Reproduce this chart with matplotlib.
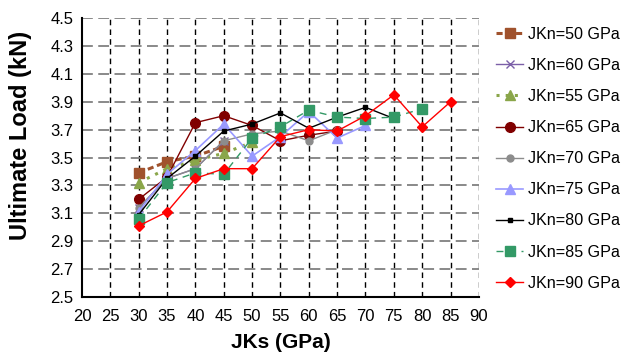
import matplotlib.pyplot as plt

plt.rcParams['font.family'] = ['Liberation Sans', 'DejaVu Sans']

# data
jks = [30, 35, 40, 45, 50, 55, 60, 65, 70, 75, 80, 85]

jkn50 = [3.39, 3.47, 3.51, 3.58]
jkn60 = [3.14, 3.35, 3.42, 3.62]
jkn55 = [3.32, 3.42, 3.48, 3.53, 3.61]
jkn65 = [3.20, 3.36, 3.75, 3.80, 3.73, 3.62, 3.66, 3.69]
jkn70 = [3.14, 3.35, 3.42, 3.62, 3.67, 3.69, 3.62, 3.70]
jkn75 = [3.11, 3.38, 3.55, 3.74, 3.51, 3.65, 3.83, 3.64, 3.73]
jkn80 = [3.09, 3.35, 3.51, 3.69, 3.74, 3.82, 3.71, 3.79, 3.86, 3.78]
jkn85 = [3.06, 3.32, 3.39, 3.38, 3.64, 3.72, 3.84, 3.79, 3.78, 3.79, 3.85]
jkn90 = [3.01, 3.11, 3.35, 3.42, 3.42, 3.65, 3.70, 3.69, 3.80, 3.95, 3.72, 3.90]

xticks = list(range(20, 95, 5))
yticks = [2.5, 2.7, 2.9, 3.1, 3.3, 3.5, 3.7, 3.9, 4.1, 4.3, 4.5]

fig = plt.figure(figsize=(6.26, 3.56), dpi=100)
ax = fig.add_axes([0.131, 0.166, 0.634, 0.783])

series = [
    ('JKn=50 GPa', jkn50, dict(color='#A0522D', ls=(0, (2, 1.2)), lw=2.2, marker='s', ms=7)),
    ('JKn=60 GPa', jkn60, dict(color='#7B5FA8', ls='-', lw=1, marker='x', ms=6)),
    ('JKn=55 GPa', jkn55, dict(color='#8AA64A', ls=(0, (1, 2)), lw=2.2, marker='^', ms=7)),
    ('JKn=65 GPa', jkn65, dict(color='#800000', ls='-', lw=1, marker='o', ms=7)),
    ('JKn=70 GPa', jkn70, dict(color='#8C8C8C', ls='-', lw=1, marker='o', ms=5)),
    ('JKn=75 GPa', jkn75, dict(color='#9999FF', ls='-', lw=1.2, marker='^', ms=7)),
    ('JKn=80 GPa', jkn80, dict(color='black', ls='-', lw=1, marker='s', ms=2.5)),
    ('JKn=85 GPa', jkn85, dict(color='#339966', ls=(0, (5, 4)), lw=1, marker='s', ms=6.5)),
    ('JKn=90 GPa', jkn90, dict(color='#FF0000', ls='-', lw=1, marker='D', ms=5.5)),
]

for label, vals, style in series:
    ax.plot(jks[:len(vals)], vals, label=label, **style, zorder=3)

ax.set_xlim(20, 90)
ax.set_ylim(2.5, 4.5)
ax.set_xticks(xticks)
ax.set_yticks(yticks)
ax.set_yticklabels([f'{v:.1f}' for v in yticks])

for x in xticks[1:]:
    ax.axvline(x, color='black', ls=(0, (4, 3)), lw=1, zorder=1)
for y in yticks[1:]:
    ax.axhline(y, color='#808080', ls=(0, (6, 3)), lw=1.3, zorder=1)

ax.spines['top'].set_visible(False)
ax.spines['right'].set_visible(False)
ax.spines['left'].set_linewidth(1.5)
ax.spines['bottom'].set_linewidth(1.5)
ax.tick_params(length=0, labelsize=12)
ax.tick_params(axis='x', pad=9)
ax.tick_params(axis='y', pad=6)

fig.text(281 / 626, 1 - 343 / 356, 'JKs (GPa)', fontsize=15, fontweight='bold',
         ha='center', va='center')
fig.text(21 / 626, 1 - 135 / 356, 'Ultimate Load (kN)', fontsize=17, fontweight='bold',
         ha='center', va='center', rotation=90)

ax.legend(loc='center left', bbox_to_anchor=(0.793, 0.554), bbox_transform=fig.transFigure,
          frameon=False, fontsize=11.6, handlelength=1.65, labelspacing=1.0,
          borderpad=0, borderaxespad=0, handletextpad=0.3)

fig.savefig('out.png', dpi=100)
